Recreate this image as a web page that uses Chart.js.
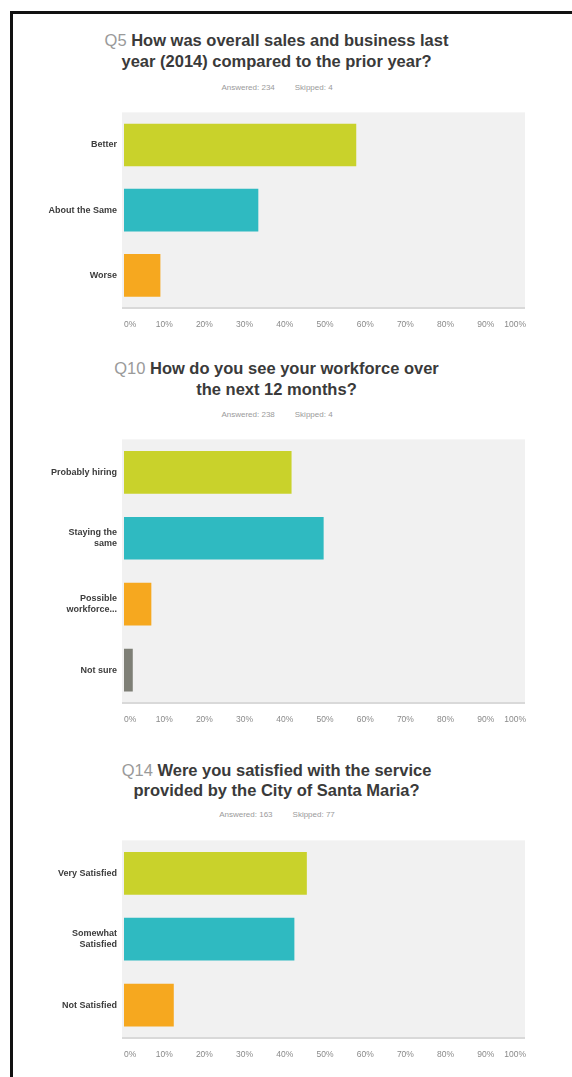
<!DOCTYPE html>
<html>
<head>
<meta charset="utf-8">
<script src="https://cdn.jsdelivr.net/npm/chart.js@4.4.0/dist/chart.umd.min.js"></script>
<style>
  html, body { margin: 0; padding: 0; background: #fff; }
  body { width: 572px; height: 1077px; position: relative; overflow: hidden; font-family: "Liberation Sans", Arial, sans-serif; }
  .frameTop { position: absolute; left: 10px; top: 11px; width: 562px; height: 3px; background: #111; }
  .frameLeft { position: absolute; left: 10px; top: 11px; width: 3px; height: 1066px; background: #111; }
  .title { position: absolute; left: 0; width: 553px; text-align: center; font-weight: bold; font-size: 16.5px; color: #3a3a3a; line-height: 21px; }
  .title .q { font-weight: normal; color: #9a9a9a; }
  .sub { position: absolute; left: 0; width: 554px; text-align: center; font-size: 8px; color: #9a9a9a; }
  .sub span { margin: 0 10px; }
  canvas { position: absolute; left: 0; }
</style>
</head>
<body>
<div class="frameTop"></div>
<div class="frameLeft"></div>

<div class="title" style="top:30px"><span class="q">Q5</span> How was overall sales and business last<br>year (2014) compared to the prior year?</div>
<div class="sub" style="top:83px"><span>Answered: 234</span><span>Skipped: 4</span></div>
<div style="position:absolute;top:100px;left:0;width:538px;height:238px"><canvas id="c1"></canvas></div>

<div class="title" style="top:358px"><span class="q">Q10</span> How do you see your workforce over<br>the next 12 months?</div>
<div class="sub" style="top:410px"><span>Answered: 238</span><span>Skipped: 4</span></div>
<div style="position:absolute;top:427px;left:0;width:538px;height:306px"><canvas id="c2"></canvas></div>

<div class="title" style="top:760px;line-height:20px"><span class="q">Q14</span> Were you satisfied with the service<br>provided by the City of Santa Maria?</div>
<div class="sub" style="top:810px"><span>Answered: 163</span><span>Skipped: 77</span></div>
<div style="position:absolute;top:828px;left:0;width:538px;height:240px"><canvas id="c3"></canvas></div>

<script>
// ---- data ----
const q5Categories = ["Better", "About the Same", "Worse"];
const q5Values = [57.69, 33.33, 8.97];

const q10Categories = ["Probably hiring", ["Staying the", "same"], ["Possible", "workforce..."], "Not sure"];
const q10Values = [41.6, 49.58, 6.72, 2.1];

const q14Categories = ["Very Satisfied", ["Somewhat", "Satisfied"], "Not Satisfied"];
const q14Values = [45.4, 42.3, 12.3];

const xTickValues = [0, 10, 20, 30, 40, 50, 60, 70, 80, 90, 100];

const barColors = ["#c9d22b", "#2fbac1", "#f6a81f", "#7e7f76"];

// ---- rendering ----
const bgPlugin = {
  id: 'plotBg',
  beforeDraw(chart) {
    const {ctx, chartArea: a} = chart;
    ctx.save();
    ctx.fillStyle = '#f1f1f1';
    ctx.fillRect(a.left - 2, a.top, a.right - a.left + 1, a.bottom - a.top);
    ctx.fillStyle = '#d9d9d9';
    ctx.fillRect(a.left - 2, a.bottom - 1, a.right - a.left + 1, 2);
    ctx.restore();
  }
};

function makeChart(id, categories, values) {
  new Chart(document.getElementById(id), {
    type: 'bar',
    data: {
      labels: categories,
      datasets: [{
        data: values,
        backgroundColor: barColors.slice(0, values.length),
        borderWidth: 0,
        barThickness: 42
      }]
    },
    plugins: [bgPlugin],
    options: {
      indexAxis: 'y',
      responsive: true,
      maintainAspectRatio: false,
      animation: false,
      layout: { padding: { top: 10, right: 0, bottom: 0, left: 0 } },
      plugins: { legend: { display: false }, tooltip: { enabled: false } },
      scales: {
        x: {
          min: 0, max: 100,
          afterBuildTicks(scale) { scale.ticks = xTickValues.map(v => ({ value: v })); },
          afterFit(scale) { scale.height = 30; },
          grid: { display: false, drawTicks: false },
          border: { display: false },
          ticks: {
            align: 'inner',
            padding: 12,
            color: '#8a8a8a',
            font: { size: 8.5, family: '"Liberation Sans", Arial, sans-serif' },
            callback: v => v + '%'
          }
        },
        y: {
          afterFit(scale) { scale.width = 124; },
          grid: { display: false, drawTicks: false },
          border: { display: false },
          ticks: {
            padding: 7,
            color: '#3c3c3c',
            font: { size: 9, weight: 'bold', family: '"Liberation Sans", Arial, sans-serif', lineHeight: 1.2 }
          }
        }
      }
    }
  });
}

makeChart('c1', q5Categories, q5Values);
makeChart('c2', q10Categories, q10Values);
makeChart('c3', q14Categories, q14Values);
</script>
</body>
</html>
